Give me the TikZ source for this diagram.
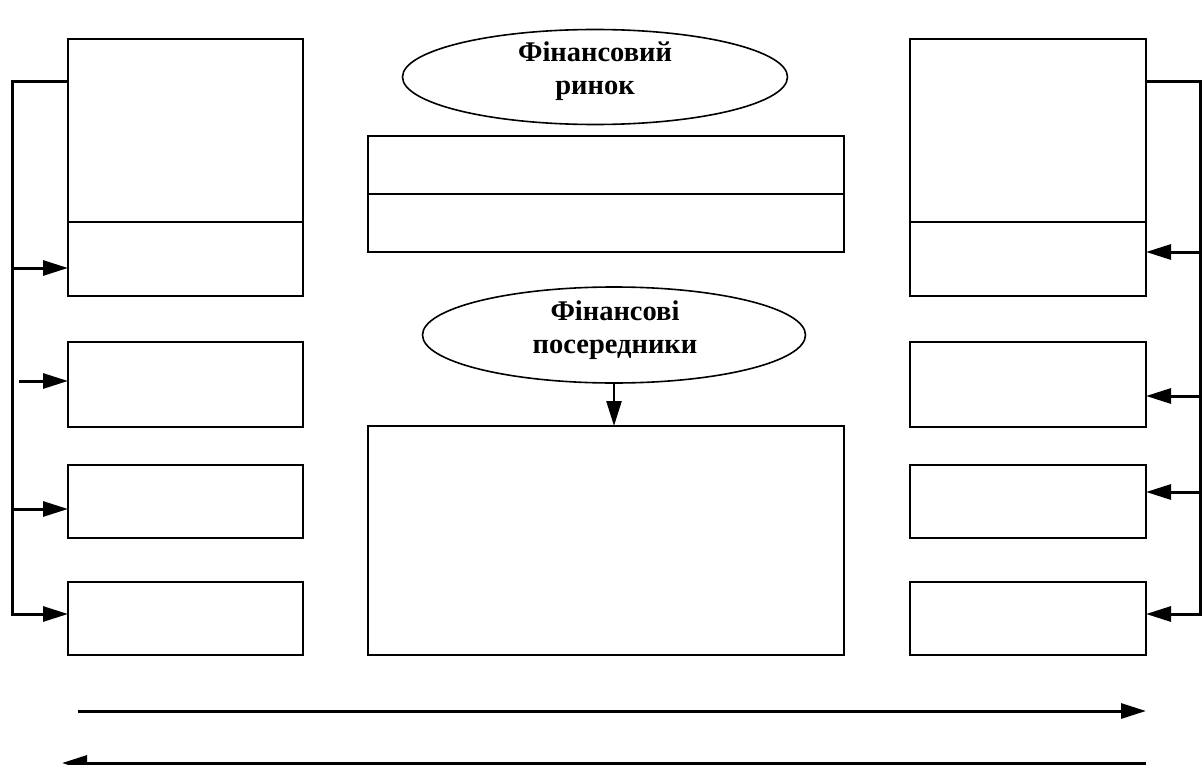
\documentclass[tikz,border=0pt]{standalone}
\usepackage{fontspec}
\setmainfont{Liberation Serif}
\usetikzlibrary{arrows.meta,shapes.geometric}
\begin{document}
\begin{tikzpicture}[x=1pt,y=-1pt,
 box/.style={draw,line width=2pt,inner sep=0pt,outer sep=0pt},
 divider/.style={line width=2pt},
 oval/.style={draw,ellipse,line width=1.6pt,inner sep=0pt,outer sep=0pt},
 ovaltext/.style={inner sep=0pt,anchor=base,font=\fontsize{28.5}{33}\selectfont\bfseries,align=center},
 conn/.style={line width=3pt,-{Triangle[length=25pt,width=15pt]}},
]
\useasboundingbox (0,0) rectangle (1202,765);
% left column
\node[box,minimum width=235pt,minimum height=257pt] (L1) at (185.5,167.5) {};
\node[box,minimum width=235pt,minimum height=85pt] (L2) at (185.5,384.5) {};
\node[box,minimum width=235pt,minimum height=73pt] (L3) at (185.5,501.5) {};
\node[box,minimum width=235pt,minimum height=73pt] (L4) at (185.5,618.5) {};
% right column
\node[box,minimum width=236pt,minimum height=257pt] (R1) at (1028,167.5) {};
\node[box,minimum width=236pt,minimum height=85pt] (R2) at (1028,384.5) {};
\node[box,minimum width=236pt,minimum height=73pt] (R3) at (1028,501.5) {};
\node[box,minimum width=236pt,minimum height=73pt] (R4) at (1028,618.5) {};
% centre
\node[box,minimum width=476pt,minimum height=116pt] (C1) at (606,194) {};
\node[box,minimum width=476pt,minimum height=229pt] (C2) at (606,540.5) {};
\node[oval,minimum width=385pt,minimum height=95pt] (E1) at (595,77) {};
\node[oval,minimum width=383pt,minimum height=96pt] (E2) at (614,335) {};
\node[ovaltext] (E1t) at (595,95) {Фінансовий\\ринок};
\node[ovaltext] (E2t) at (615,353) {Фінансові\\посередники};
% dividers
\coordinate (dl) at (0,222);
\draw[divider] (L1.west |- dl) -- (L1.east |- dl);
\draw[divider] (R1.west |- dl) -- (R1.east |- dl);
\draw[divider] (C1.west) -- (C1.east);
% ellipse to box
\draw[conn,line width=2.5pt] (E2.south) -- (E2.south |- C2.north);
% left wires
\coordinate (LT) at (12,82);
\coordinate (LB) at (12,614);
\coordinate (la1) at (12,268);
\coordinate (la2) at (19,381);
\coordinate (la3) at (12,509);
\draw[conn] (L1.west |- LT) -- (LT) -- (LB) -- (L4.west |- LB);
\draw[conn] (la1) -- (L1.west |- la1);
\draw[conn] (la2) -- (L2.west |- la2);
\draw[conn] (la3) -- (L3.west |- la3);
% right wires
\coordinate (RT) at (1200.5,82);
\coordinate (RB) at (1200.5,614);
\coordinate (ra1) at (1200.5,252);
\coordinate (ra2) at (1200.5,396);
\coordinate (ra3) at (1200.5,492);
\draw[conn] (R1.east |- RT) -- (RT) -- (RB) -- (R4.east |- RB);
\draw[conn] (ra1) -- (R1.east |- ra1);
\draw[conn] (ra2) -- (R2.east |- ra2);
\draw[conn] (ra3) -- (R3.east |- ra3);
% bottom arrows
\coordinate (b1s) at (78,711);
\coordinate (b1e) at (1146,711);
\coordinate (b2s) at (1146,763);
\coordinate (b2e) at (62,763);
\draw[conn] (b1s) -- (b1e);
\draw[conn] (b2s) -- (b2e);
\end{tikzpicture}
\end{document}
